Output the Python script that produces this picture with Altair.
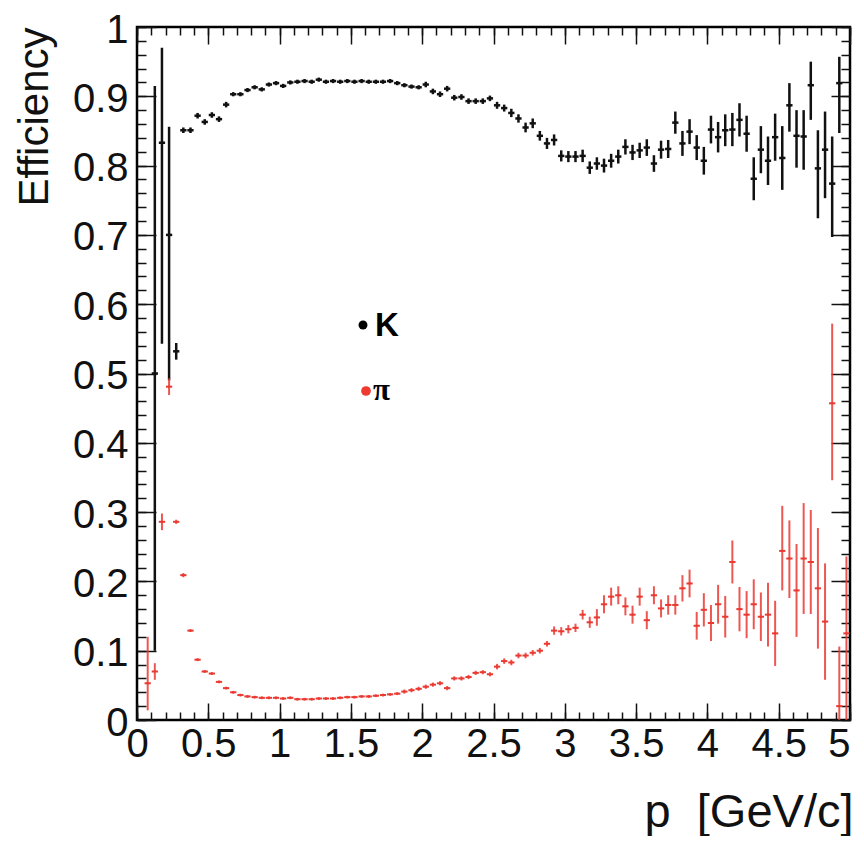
import altair as alt
import pandas as pd

# ---------------- data ----------------
k_p = [0.125, 0.175, 0.225, 0.275, 0.325, 0.375, 0.425, 0.475,
       0.525, 0.575, 0.625, 0.675, 0.725, 0.775, 0.825, 0.875, 0.925, 0.975,
       1.025, 1.075, 1.125, 1.175, 1.225, 1.275, 1.325, 1.375, 1.425, 1.475,
       1.525, 1.575, 1.625, 1.675, 1.725, 1.775, 1.825, 1.875, 1.925, 1.975,
       2.025, 2.075, 2.125, 2.175, 2.225, 2.275, 2.325, 2.375, 2.425, 2.475,
       2.525, 2.575, 2.625, 2.675, 2.725, 2.775, 2.825, 2.875, 2.925, 2.975,
       3.025, 3.075, 3.125, 3.175, 3.225, 3.275, 3.325, 3.375, 3.425, 3.475,
       3.525, 3.575, 3.625, 3.675, 3.725, 3.775, 3.825, 3.875, 3.925, 3.975,
       4.025, 4.075, 4.125, 4.175, 4.225, 4.275, 4.325, 4.375, 4.425, 4.475,
       4.525, 4.575, 4.625, 4.675, 4.725, 4.775, 4.825, 4.875, 4.925]
k_eff = [0.50, 0.833, 0.70, 0.532, 0.851, 0.851, 0.872, 0.863,
         0.873, 0.867, 0.888, 0.903, 0.903, 0.909, 0.913, 0.910, 0.917, 0.919,
         0.915, 0.920, 0.921, 0.922, 0.921, 0.924, 0.921, 0.922, 0.921, 0.922,
         0.921, 0.922, 0.921, 0.921, 0.921, 0.922, 0.919, 0.916, 0.914, 0.913,
         0.917, 0.907, 0.903, 0.911, 0.898, 0.899, 0.893, 0.893, 0.893, 0.897,
         0.887, 0.883, 0.876, 0.868, 0.855, 0.861, 0.843, 0.832, 0.837, 0.814,
         0.813, 0.813, 0.814, 0.797, 0.803, 0.800, 0.807, 0.813, 0.827, 0.819,
         0.822, 0.826, 0.803, 0.823, 0.824, 0.862, 0.832, 0.849, 0.826, 0.807,
         0.852, 0.841, 0.851, 0.852, 0.866, 0.846, 0.781, 0.823, 0.807, 0.841,
         0.811, 0.887, 0.843, 0.842, 0.916, 0.796, 0.823, 0.774, 0.919]
k_err_lo = [0.40, 0.29, 0.21, 0.012, 0.004, 0.004, 0.004, 0.004,
            0.004, 0.004, 0.004, 0.003, 0.003, 0.003, 0.003, 0.003, 0.003, 0.003,
            0.003, 0.003, 0.003, 0.003, 0.003, 0.003, 0.003, 0.003, 0.003, 0.003,
            0.003, 0.003, 0.003, 0.003, 0.003, 0.003, 0.003, 0.003, 0.003, 0.003,
            0.004, 0.004, 0.004, 0.004, 0.004, 0.004, 0.004, 0.004, 0.004, 0.004,
            0.005, 0.005, 0.006, 0.006, 0.007, 0.007, 0.007, 0.008, 0.008, 0.008,
            0.008, 0.008, 0.009, 0.009, 0.009, 0.010, 0.010, 0.010, 0.011, 0.011,
            0.011, 0.012, 0.012, 0.013, 0.013, 0.016, 0.018, 0.018, 0.018, 0.020,
            0.020, 0.022, 0.023, 0.024, 0.024, 0.026, 0.031, 0.034, 0.035, 0.034,
            0.046, 0.038, 0.046, 0.048, 0.050, 0.072, 0.070, 0.077, 0.072]
k_err_hi = [0.415, 0.137, 0.156, 0.012, 0.004, 0.004, 0.004, 0.004,
            0.004, 0.004, 0.004, 0.003, 0.003, 0.003, 0.003, 0.003, 0.003, 0.003,
            0.003, 0.003, 0.003, 0.003, 0.003, 0.003, 0.003, 0.003, 0.003, 0.003,
            0.003, 0.003, 0.003, 0.003, 0.003, 0.003, 0.003, 0.003, 0.003, 0.003,
            0.004, 0.004, 0.004, 0.004, 0.004, 0.004, 0.004, 0.004, 0.004, 0.004,
            0.005, 0.005, 0.006, 0.006, 0.007, 0.007, 0.007, 0.008, 0.008, 0.008,
            0.008, 0.008, 0.009, 0.009, 0.009, 0.010, 0.010, 0.010, 0.011, 0.011,
            0.011, 0.012, 0.012, 0.013, 0.013, 0.016, 0.018, 0.018, 0.018, 0.020,
            0.020, 0.022, 0.023, 0.024, 0.024, 0.026, 0.031, 0.034, 0.035, 0.034,
            0.046, 0.032, 0.037, 0.038, 0.034, 0.055, 0.055, 0.068, 0.038]

pi_p = [0.075, 0.125, 0.175, 0.225, 0.275, 0.325, 0.375, 0.425, 0.475,
        0.525, 0.575, 0.625, 0.675, 0.725, 0.775, 0.825, 0.875, 0.925, 0.975,
        1.025, 1.075, 1.125, 1.175, 1.225, 1.275, 1.325, 1.375, 1.425, 1.475,
        1.525, 1.575, 1.625, 1.675, 1.725, 1.775, 1.825, 1.875, 1.925, 1.975,
        2.025, 2.075, 2.125, 2.175, 2.225, 2.275, 2.325, 2.375, 2.425, 2.475,
        2.525, 2.575, 2.625, 2.675, 2.725, 2.775, 2.825, 2.875, 2.925, 2.975,
        3.025, 3.075, 3.125, 3.175, 3.225, 3.275, 3.325, 3.375, 3.425, 3.475,
        3.525, 3.575, 3.625, 3.675, 3.725, 3.775, 3.825, 3.875, 3.925, 3.975,
        4.025, 4.075, 4.125, 4.175, 4.225, 4.275, 4.325, 4.375, 4.425, 4.475,
        4.525, 4.575, 4.625, 4.675, 4.725, 4.775, 4.825, 4.875, 4.925, 4.975]
pi_eff = [0.053, 0.070, 0.286, 0.481, 0.286, 0.209, 0.129, 0.087, 0.070,
          0.067, 0.055, 0.046, 0.040, 0.036, 0.034, 0.033, 0.032, 0.032, 0.032,
          0.031, 0.032, 0.030, 0.030, 0.030, 0.031, 0.031, 0.031, 0.032, 0.033,
          0.033, 0.034, 0.034, 0.035, 0.036, 0.037, 0.038, 0.041, 0.043, 0.045,
          0.048, 0.051, 0.053, 0.046, 0.060, 0.060, 0.062, 0.068, 0.069, 0.066,
          0.077, 0.085, 0.083, 0.093, 0.093, 0.097, 0.100, 0.110, 0.129, 0.128,
          0.131, 0.133, 0.152, 0.141, 0.148, 0.167, 0.178, 0.180, 0.164, 0.152,
          0.178, 0.144, 0.180, 0.161, 0.166, 0.166, 0.190, 0.197, 0.136, 0.159,
          0.140, 0.167, 0.149, 0.228, 0.160, 0.152, 0.167, 0.149, 0.152, 0.125,
          0.244, 0.233, 0.187, 0.233, 0.228, 0.190, 0.142, 0.457, 0.020, 0.125]
pi_err_lo = [0.039, 0.012, 0.012, 0.012, 0.003, 0.003, 0.002, 0.002, 0.002,
             0.002, 0.002, 0.002, 0.002, 0.002, 0.002, 0.002, 0.002, 0.002, 0.002,
             0.002, 0.002, 0.002, 0.002, 0.002, 0.002, 0.002, 0.002, 0.002, 0.002,
             0.002, 0.002, 0.002, 0.002, 0.002, 0.002, 0.002, 0.003, 0.003, 0.003,
             0.003, 0.003, 0.003, 0.003, 0.003, 0.003, 0.003, 0.003, 0.003, 0.003,
             0.004, 0.004, 0.004, 0.004, 0.004, 0.004, 0.004, 0.004, 0.006, 0.006,
             0.006, 0.006, 0.007, 0.008, 0.012, 0.013, 0.013, 0.013, 0.013, 0.013,
             0.013, 0.013, 0.013, 0.013, 0.014, 0.014, 0.019, 0.020, 0.020, 0.024,
             0.026, 0.028, 0.030, 0.031, 0.032, 0.034, 0.036, 0.035, 0.046, 0.047,
             0.057, 0.057, 0.067, 0.080, 0.075, 0.087, 0.084, 0.111, 0.020, 0.125]
pi_err_hi = [0.067, 0.012, 0.012, 0.012, 0.003, 0.003, 0.002, 0.002, 0.002,
             0.002, 0.002, 0.002, 0.002, 0.002, 0.002, 0.002, 0.002, 0.002, 0.002,
             0.002, 0.002, 0.002, 0.002, 0.002, 0.002, 0.002, 0.002, 0.002, 0.002,
             0.002, 0.002, 0.002, 0.002, 0.002, 0.002, 0.002, 0.003, 0.003, 0.003,
             0.003, 0.003, 0.003, 0.003, 0.003, 0.003, 0.003, 0.003, 0.003, 0.003,
             0.004, 0.004, 0.004, 0.004, 0.004, 0.004, 0.004, 0.004, 0.006, 0.006,
             0.006, 0.006, 0.007, 0.008, 0.012, 0.013, 0.013, 0.013, 0.013, 0.013,
             0.013, 0.013, 0.013, 0.013, 0.014, 0.014, 0.019, 0.020, 0.020, 0.024,
             0.026, 0.028, 0.030, 0.031, 0.032, 0.034, 0.036, 0.035, 0.046, 0.047,
             0.065, 0.055, 0.067, 0.080, 0.075, 0.087, 0.084, 0.115, 0.086, 0.111]

x_tick_labels = [0, 0.5, 1, 1.5, 2, 2.5, 3, 3.5, 4, 4.5, 5]
y_tick_labels = [0, 0.1, 0.2, 0.3, 0.4, 0.5, 0.6, 0.7, 0.8, 0.9, 1]
x_minor_ticks = [round(i * 0.1, 2) for i in range(51)]
y_minor_ticks = [round(i * 0.02, 2) for i in range(51)]

legend_names = ["K", "π"]

# ---------------- layout constants ----------------
W, H = 713, 693
HALF_BIN = 0.022
FONT = "Liberation Sans"
BLACK = "#111111"
RED = "#ea3a32"


def make_df(p, eff, lo, hi):
    df = pd.DataFrame({"p": p, "eff": eff, "elo": lo, "ehi": hi})
    df["lo"] = (df["eff"] - df["elo"]).clip(lower=0)
    df["hi"] = (df["eff"] + df["ehi"]).clip(upper=1)
    df["p0"] = df["p"] - HALF_BIN
    df["p1"] = df["p"] + HALF_BIN
    return df


k_df = make_df(k_p, k_eff, k_err_lo, k_err_hi)
pi_df = make_df(pi_p, pi_eff, pi_err_lo, pi_err_hi)

xs = alt.Scale(domain=[0, 5], nice=False, zero=False)
ys = alt.Scale(domain=[0, 1], nice=False, zero=False)


def tick_axis(orient, offset, values, size):
    return alt.Axis(orient=orient, offset=offset, values=values, tickSize=size,
                    labels=False, domain=False, grid=False, title=None,
                    ticks=True, tickColor=BLACK, tickWidth=1.5)


label_x_axis = alt.Axis(orient="bottom", values=x_tick_labels, format="~g",
                        ticks=False, domain=False, grid=False,
                        labelFont=FONT, labelFontSize=40, labelColor=BLACK,
                        labelPadding=4, labelFlush=False, labelOverlap=False,
                        labelAlign={"condition": {"test": "datum.value >= 4.99",
                                                  "value": "right"},
                                    "value": "center"},
                        title="p\u00a0\u00a0[GeV/c]", titleFont=FONT,
                        titleFontSize=47,
                        titleFontWeight="normal", titleColor=BLACK,
                        titleAnchor="end", titleAlign="right",
                        titleBaseline="alphabetic", titleX=716, titleY=106)
label_y_axis = alt.Axis(orient="left", values=y_tick_labels, format="~g",
                        ticks=False, domain=False, grid=False,
                        labelFont=FONT, labelFontSize=40, labelColor=BLACK,
                        labelPadding=9, labelOffset=3, labelFlush=False,
                        labelOverlap=False,
                        title="Efficiency", titleFont=FONT, titleFontSize=42,
                        titleFontWeight="normal", titleColor=BLACK,
                        titleAngle=270, titleAnchor="end", titleAlign="right",
                        titleBaseline="alphabetic", titleX=-90, titleY=0)

# K vertical error bars (carries labelled axes)
k_vert = alt.Chart(k_df).mark_rule(color=BLACK, strokeWidth=2.5).encode(
    x=alt.X("p:Q", scale=xs, axis=label_x_axis),
    y=alt.Y("lo:Q", scale=ys, axis=label_y_axis),
    y2="hi:Q",
)
# K horizontal bars (bottom/left inner major ticks)
k_horz = alt.Chart(k_df).mark_rule(color=BLACK, strokeWidth=2.5).encode(
    x=alt.X("p0:Q", scale=xs, axis=tick_axis("top", -H, x_tick_labels, 17)),
    x2="p1:Q",
    y=alt.Y("eff:Q", scale=ys, axis=tick_axis("right", -W, y_tick_labels, 19)),
)
# pi vertical bars (bottom/left inner minor ticks)
pi_vert = alt.Chart(pi_df).mark_rule(color=RED, strokeWidth=2, opacity=0.85).encode(
    x=alt.X("p:Q", scale=xs, axis=tick_axis("top", -H, x_minor_ticks, 8)),
    y=alt.Y("lo:Q", scale=ys, axis=tick_axis("right", -W, y_minor_ticks, 9)),
    y2="hi:Q",
)
# pi horizontal bars (top/right inner major ticks)
pi_horz = alt.Chart(pi_df).mark_rule(color=RED, strokeWidth=2).encode(
    x=alt.X("p0:Q", scale=xs, axis=tick_axis("bottom", -H, x_tick_labels, 17)),
    x2="p1:Q",
    y=alt.Y("eff:Q", scale=ys, axis=tick_axis("left", -W, y_tick_labels, 19)),
)
# K centre points (top/right inner minor ticks)
k_pts = alt.Chart(k_df).mark_circle(color=BLACK, size=6, opacity=1).encode(
    x=alt.X("p:Q", scale=xs, axis=tick_axis("bottom", -H, x_minor_ticks, 8)),
    y=alt.Y("eff:Q", scale=ys, axis=tick_axis("left", -W, y_minor_ticks, 9)),
)
pi_pts = alt.Chart(pi_df).mark_circle(color=RED, size=5, opacity=1).encode(
    x=alt.X("p:Q", scale=xs, axis=None),
    y=alt.Y("eff:Q", scale=ys, axis=None),
)

# legend
leg_df = pd.DataFrame({"name": legend_names})
k_dot = alt.Chart(leg_df).transform_filter(alt.datum.name == "K").mark_circle(
    color="#000000", size=80, opacity=1).encode(x=alt.value(226), y=alt.value(298))
pi_dot = alt.Chart(leg_df).transform_filter(alt.datum.name == "π").mark_circle(
    color="#ee3a30", size=95, opacity=1).encode(x=alt.value(229), y=alt.value(364))
k_txt = alt.Chart(leg_df).transform_filter(alt.datum.name == "K").mark_text(
    font=FONT, fontSize=33, fontWeight="bold", align="left", baseline="middle",
    color="#000000").encode(x=alt.value(238), y=alt.value(299), text="name:N")
pi_txt = alt.Chart(leg_df).transform_filter(alt.datum.name == "π").mark_text(
    font="Liberation Serif", fontSize=31, fontWeight="bold", align="left",
    baseline="alphabetic",
    color="#000000").encode(x=alt.value(236), y=alt.value(373), text="name:N")

chart = alt.layer(
    k_vert, k_horz, pi_vert, pi_horz, k_pts, pi_pts, k_dot, pi_dot, k_txt, pi_txt
).resolve_axis(
    x="independent", y="independent"
).properties(
    width=W, height=H,
    autosize=alt.AutoSizeParams(type="none"),
    padding={"left": 129, "top": 19, "right": 6, "bottom": 116},
    background="white",
).configure_view(
    stroke="#000000", strokeWidth=2.5
)

chart.save("out.html", embed_options={"renderer": "svg", "actions": False})
